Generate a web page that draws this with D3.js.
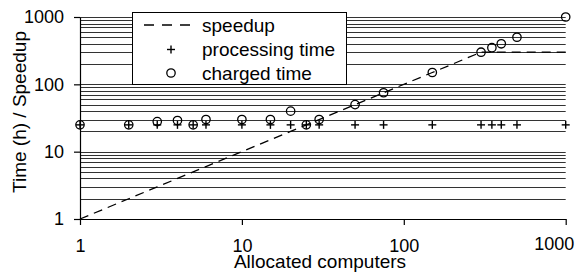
<!DOCTYPE html>
<html>
<head>
<meta charset="utf-8">
<script src="https://cdn.jsdelivr.net/npm/d3@7"></script>
<style>
  body { margin: 0; background: white; }
  svg { display: block; font-family: "Liberation Sans", Arial, Helvetica, sans-serif; }
</style>
</head>
<body>
<div id="chart"></div>
<script>
const computers = [1, 2, 3, 4, 5, 6, 10, 15, 20, 25, 30, 50, 75, 150, 300, 350, 400, 500, 1000];
const speedup = [1, 2, 3, 4, 5, 6, 10, 15, 20, 25, 30, 50, 75, 150, 300, 300, 300, 300, 300];
const processingTime = [25, 25, 25, 25, 25, 25, 25, 25, 25, 25, 25, 25, 25, 25, 25, 25, 25, 25, 25];
const chargedTime = [25, 25, 28, 29, 25, 30, 30, 30, 40, 25, 30, 50, 75, 150, 300, 350, 400, 500, 1000];
const tickValues = [1, 10, 100, 1000];
const legendLabels = ["speedup", "processing time", "charged time"];

const width = 579, height = 273;
const plotLeft = 80, plotRight = 565.7, plotTop = 17, plotBottom = 219;

const svg = d3.select("#chart")
  .append("svg")
  .attr("width", width)
  .attr("height", height);

const x = d3.scaleLog().domain([1, 1000]).range([plotLeft, plotRight]);
const y = d3.scaleLog().domain([1, 1000]).range([plotBottom, plotTop]);

// grid lines at every 1..9 step of each decade
const gridVals = [];
for (let d = 1; d < 1000; d *= 10) {
  for (let k = 1; k < 10; k++) gridVals.push(k * d);
}
gridVals.push(1000);

svg.append("g")
  .selectAll("line")
  .data(gridVals)
  .join("line")
  .attr("x1", plotLeft)
  .attr("x2", plotRight)
  .attr("y1", d => Math.round(y(d)) + 0.5)
  .attr("y2", d => Math.round(y(d)) + 0.5)
  .attr("stroke", "#333")
  .attr("stroke-width", 1);

// axes
const xAxis = svg.append("g")
  .attr("transform", `translate(0,${plotBottom})`)
  .call(d3.axisBottom(x).tickValues(tickValues).tickFormat(d3.format("d")).tickSize(6).tickSizeOuter(0));

const yAxis = svg.append("g")
  .attr("transform", `translate(${plotLeft},0)`)
  .call(d3.axisLeft(y).tickValues(tickValues).tickFormat(d3.format("d")).tickSize(6).tickSizeOuter(0));

[xAxis, yAxis].forEach(a => {
  a.select(".domain").attr("stroke", "#000").attr("stroke-width", 1.2);
  a.selectAll(".tick line").attr("stroke", "#000").attr("stroke-width", 1.2);
  a.selectAll(".tick text")
    .attr("fill", "#000")
    .style("font-size", "18px")
    .style("font-family", "'Liberation Sans', Arial, sans-serif");
});

xAxis.selectAll(".tick text")
  .attr("y", 33)
  .attr("dy", 0);
xAxis.selectAll(".tick text")
  .filter(d => d === 1000)
  .attr("text-anchor", "end")
  .attr("x", 8)
  .attr("y", 31);

yAxis.selectAll(".tick text")
  .attr("x", -16);

// speedup line
const line = d3.line()
  .x((d, i) => x(computers[i]))
  .y(d => y(d));

svg.append("path")
  .datum(speedup)
  .attr("fill", "none")
  .attr("stroke", "#000")
  .attr("stroke-width", 1.3)
  .attr("stroke-dasharray", "9,6")
  .attr("d", line);

// processing time markers
function plus(sel, s) {
  sel.append("line").attr("x1", -s).attr("x2", s).attr("y1", 0).attr("y2", 0);
  sel.append("line").attr("x1", 0).attr("x2", 0).attr("y1", -s).attr("y2", s);
}

svg.append("g")
  .attr("stroke", "#000")
  .attr("stroke-width", 1.4)
  .selectAll("g")
  .data(processingTime)
  .join("g")
  .attr("transform", (d, i) => `translate(${x(computers[i])},${y(d)})`)
  .each(function() { plus(d3.select(this), 4); });

// charged time markers
svg.append("g")
  .selectAll("circle")
  .data(chargedTime)
  .join("circle")
  .attr("cx", (d, i) => x(computers[i]))
  .attr("cy", d => y(d))
  .attr("r", 4.2)
  .attr("fill", "none")
  .attr("stroke", "#000")
  .attr("stroke-width", 1.3);

// legend
const legend = svg.append("g");
legend.append("rect")
  .attr("x", 132.5)
  .attr("y", 12.5)
  .attr("width", 214)
  .attr("height", 72)
  .attr("fill", "white")
  .attr("stroke", "#000")
  .attr("stroke-width", 1);

const rowY = [25, 49.5, 73];
legend.append("line")
  .attr("x1", 144).attr("x2", 190)
  .attr("y1", rowY[0]).attr("y2", rowY[0])
  .attr("stroke", "#000")
  .attr("stroke-width", 1.5)
  .attr("stroke-dasharray", "10,8");

legend.append("g")
  .attr("stroke", "#000")
  .attr("stroke-width", 1.4)
  .attr("transform", `translate(171,${rowY[1]})`)
  .call(g => plus(g, 4));

legend.append("circle")
  .attr("cx", 171)
  .attr("cy", rowY[2])
  .attr("r", 4.2)
  .attr("fill", "none")
  .attr("stroke", "#000")
  .attr("stroke-width", 1.3);

legend.selectAll("text")
  .data(legendLabels)
  .join("text")
  .attr("x", 202)
  .attr("y", (d, i) => rowY[i] + 6.8)
  .style("font-size", "19px")
  .text(d => d);

// axis titles
svg.append("text")
  .attr("x", 320)
  .attr("y", 268)
  .attr("text-anchor", "middle")
  .style("font-size", "19px")
  .text("Allocated computers");

svg.append("text")
  .attr("transform", "translate(26,112) rotate(-90)")
  .attr("text-anchor", "middle")
  .style("font-size", "19px")
  .text("Time (h) / Speedup");
</script>
</body>
</html>
